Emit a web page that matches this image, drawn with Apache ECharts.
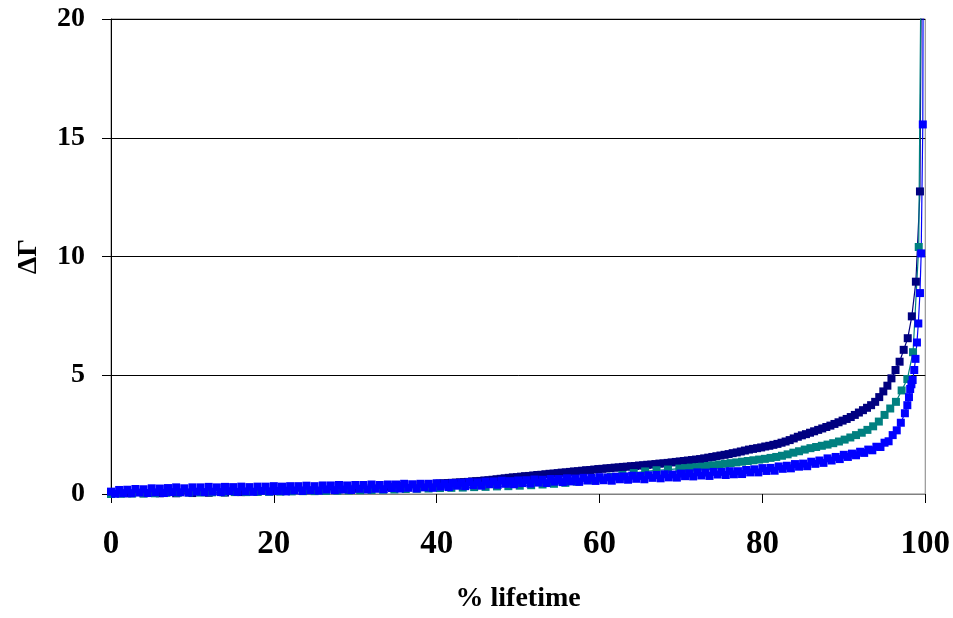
<!DOCTYPE html>
<html>
<head>
<meta charset="utf-8">
<script src="https://cdn.jsdelivr.net/npm/echarts/dist/echarts.min.js"></script>
<style>
  html, body { margin: 0; padding: 0; background: #fff; }
  #chart { width: 953px; height: 618px; }
</style>
</head>
<body>
<div id="chart"></div>
<script>
  // [% lifetime, ΔΓ]
  var navyPoints = [
    [0, 0.02], [2, 0.03], [4, 0.03], [6, 0.03], [8, 0.03], [10, 0.04], [12, 0.05], [14, 0.06],
    [16, 0.08], [18, 0.10], [20, 0.12], [22, 0.14], [24, 0.16], [26, 0.18], [28, 0.20], [30, 0.22],
    [32, 0.26], [34, 0.30], [36, 0.34], [38, 0.39], [40, 0.43],
    [40.35, 0.44], [40.85, 0.45], [41.35, 0.46], [41.85, 0.47], [42.35, 0.48], [42.85, 0.49],
    [43.35, 0.50], [43.85, 0.51], [44.35, 0.53], [44.85, 0.54], [45.35, 0.55], [45.85, 0.57],
    [46.35, 0.58], [46.85, 0.60], [47.35, 0.62], [47.85, 0.64], [48.35, 0.66], [48.85, 0.68],
    [49.35, 0.70], [49.85, 0.71], [50.35, 0.73], [50.85, 0.75], [51.35, 0.76], [51.85, 0.78],
    [52.35, 0.80], [52.85, 0.81], [53.35, 0.83], [53.85, 0.85], [54.35, 0.86], [54.85, 0.88],
    [55.35, 0.90], [55.85, 0.91], [56.35, 0.93], [56.85, 0.95], [57.35, 0.96], [57.85, 0.98],
    [58.35, 1.00], [58.85, 1.01], [59.35, 1.03], [59.85, 1.05], [60.35, 1.06], [60.85, 1.08],
    [61.35, 1.09], [61.85, 1.11], [62.35, 1.12], [62.85, 1.14], [63.35, 1.15], [63.85, 1.17],
    [64.35, 1.18], [64.85, 1.20], [65.35, 1.21], [65.85, 1.23], [66.35, 1.24], [66.85, 1.26],
    [67.35, 1.28], [67.85, 1.29], [68.35, 1.31], [68.85, 1.33], [69.35, 1.35], [69.85, 1.37],
    [70.35, 1.39], [70.85, 1.41], [71.35, 1.43], [71.85, 1.45], [72.35, 1.47], [72.85, 1.50],
    [73.35, 1.53], [73.85, 1.56], [74.35, 1.59], [74.85, 1.62], [75.35, 1.65], [75.85, 1.68],
    [76.35, 1.72], [76.85, 1.75], [77.35, 1.79], [77.85, 1.83], [78.35, 1.87], [78.85, 1.90],
    [79.35, 1.93], [79.85, 1.96], [80.35, 2.00], [80.85, 2.03], [81.35, 2.07], [81.85, 2.11],
    [82.35, 2.16], [82.85, 2.21], [83.35, 2.27], [83.85, 2.34], [84.35, 2.41], [84.85, 2.47],
    [85.35, 2.52], [85.85, 2.58], [86.35, 2.64], [86.85, 2.70], [87.35, 2.76], [87.85, 2.82],
    [88.35, 2.88], [88.85, 2.95], [89.35, 3.02], [89.85, 3.09], [90.35, 3.16], [90.85, 3.24],
    [91.35, 3.33], [91.85, 3.43], [92.35, 3.53], [92.85, 3.63], [93.35, 3.74], [93.85, 3.88],
    [94.35, 4.08], [94.85, 4.32], [95.35, 4.56], [95.85, 4.87], [96.35, 5.22], [96.85, 5.57],
    [97.35, 6.07], [97.85, 6.56], [98.35, 7.48], [98.85, 8.94], [99.35, 12.74], [99.85, 40]
  ]

  var tealPoints = [
    [0, 0.00], [1.2, 0.01], [2.6, 0.02], [4.0, 0.02], [5.4, 0.03], [6.8, 0.05], [8.2, 0.05],
    [9.6, 0.06], [11.0, 0.06], [12.4, 0.07], [13.8, 0.07], [15.2, 0.08], [16.6, 0.08], [18.0, 0.09],
    [19.4, 0.09], [20.8, 0.10], [22.2, 0.11], [23.6, 0.12], [25.0, 0.12], [26.4, 0.13], [27.8, 0.14],
    [29.2, 0.15], [30.6, 0.16], [32.0, 0.17], [33.4, 0.18], [34.8, 0.19], [36.2, 0.21], [37.6, 0.22],
    [39.0, 0.23], [40.4, 0.25], [41.8, 0.26], [43.2, 0.27], [44.6, 0.29], [46.0, 0.30], [47.4, 0.32],
    [48.8, 0.33], [50.2, 0.35], [51.6, 0.37], [53.0, 0.40], [54.4, 0.43], [55.8, 0.47], [57.2, 0.52],
    [58.6, 0.58], [60.0, 0.65], [61.4, 0.72], [62.8, 0.80], [64.2, 0.88], [65.6, 0.95], [67.0, 1.00],
    [68.4, 1.03], [69.8, 1.07], [70.5, 1.09], [71.2, 1.11], [71.9, 1.13], [72.6, 1.15], [73.3, 1.18],
    [74.0, 1.21], [74.7, 1.24], [75.4, 1.27], [76.1, 1.30], [76.8, 1.33], [77.5, 1.36], [78.2, 1.39],
    [78.9, 1.42], [79.6, 1.45], [80.3, 1.48], [81.0, 1.52], [81.7, 1.56], [82.4, 1.61], [83.1, 1.67],
    [83.8, 1.74], [84.5, 1.80], [85.2, 1.87], [85.9, 1.93], [86.6, 1.98], [87.3, 2.03], [88.0, 2.08],
    [88.7, 2.14], [89.4, 2.21], [90.1, 2.29], [90.8, 2.38], [91.5, 2.48], [92.2, 2.58], [92.9, 2.70],
    [93.6, 2.85], [94.3, 3.05], [95.0, 3.33], [95.7, 3.60], [96.4, 3.88], [97.1, 4.36], [97.8, 4.84],
    [98.5, 5.97], [99.2, 10.40], [99.9, 40]
  ]

  var bluePoints = [
    [0, 0.10], [0.5, 0.01], [1, 0.17], [1.5, 0.03], [2, 0.18], [2.5, 0.03], [3, 0.21], [3.5, 0.06],
    [4, 0.20], [4.5, 0.04], [5, 0.24], [5.5, 0.07], [6, 0.23], [6.5, 0.04], [7, 0.25], [7.5, 0.08],
    [8, 0.28], [8.5, 0.07], [9, 0.24], [9.5, 0.06], [10, 0.28], [10.5, 0.10], [11, 0.28], [11.5, 0.08],
    [12, 0.30], [12.5, 0.10], [13, 0.28], [13.5, 0.08], [14, 0.30], [14.5, 0.12], [15, 0.29], [15.5, 0.09],
    [16, 0.31], [16.5, 0.11], [17, 0.29], [17.5, 0.09], [18, 0.31], [18.5, 0.13], [19, 0.31], [19.5, 0.11],
    [20, 0.33], [20.5, 0.13], [21, 0.31], [21.5, 0.11], [22, 0.33], [22.5, 0.15], [23, 0.33], [23.5, 0.13],
    [24, 0.35], [24.5, 0.16], [25, 0.33], [25.5, 0.14], [26, 0.36], [26.5, 0.19], [27, 0.36], [27.5, 0.16],
    [28, 0.38], [28.5, 0.19], [29, 0.36], [29.5, 0.17], [30, 0.38], [30.5, 0.22], [31, 0.38], [31.5, 0.19],
    [32, 0.40], [32.5, 0.22], [33, 0.38], [33.5, 0.20], [34, 0.40], [34.5, 0.25], [35, 0.40], [35.5, 0.23],
    [36, 0.43], [36.5, 0.26], [37, 0.41], [37.5, 0.23], [38, 0.43], [38.5, 0.28], [39, 0.43], [39.5, 0.26],
    [40, 0.45], [40.5, 0.31], [41, 0.43], [41.5, 0.29], [42, 0.46], [42.5, 0.35], [43, 0.47], [43.5, 0.33],
    [44, 0.50], [44.5, 0.37], [45, 0.49], [45.5, 0.35], [46, 0.52], [46.5, 0.41], [47, 0.53], [47.5, 0.39],
    [48, 0.56], [48.5, 0.43], [49, 0.54], [49.5, 0.41], [50, 0.57], [50.5, 0.46], [51, 0.58], [51.5, 0.44],
    [52, 0.61], [52.5, 0.48], [53, 0.60], [53.5, 0.46], [54, 0.63], [54.5, 0.52], [55, 0.63], [55.5, 0.50],
    [56, 0.66], [56.5, 0.53], [57, 0.65], [57.5, 0.51], [58, 0.68], [58.5, 0.57], [59, 0.68], [59.5, 0.55],
    [60, 0.71], [60.5, 0.58], [61, 0.70], [61.5, 0.56], [62, 0.73], [62.5, 0.62], [63, 0.74], [63.5, 0.60],
    [64, 0.77], [64.5, 0.64], [65, 0.76], [65.5, 0.62], [66, 0.79], [66.5, 0.68], [67, 0.80], [67.5, 0.66],
    [68, 0.83], [68.5, 0.70], [69, 0.82], [69.5, 0.69], [70, 0.86], [70.5, 0.75], [71, 0.87], [71.5, 0.74],
    [72, 0.91], [72.5, 0.78], [73, 0.90], [73.5, 0.76], [74, 0.93], [74.5, 0.82], [75, 0.93], [75.5, 0.80],
    [76, 0.96], [76.5, 0.83], [77, 0.96], [77.5, 0.84], [78, 1.01], [78.5, 0.91], [79, 1.04], [79.5, 0.91],
    [80, 1.09], [80.5, 0.97], [81, 1.10], [81.5, 0.98], [82, 1.16], [82.5, 1.06], [83, 1.19], [83.5, 1.08],
    [84, 1.26], [84.5, 1.15], [85, 1.28], [85.5, 1.17], [86, 1.36], [86.5, 1.27], [87, 1.41], [87.5, 1.31],
    [88, 1.50], [88.5, 1.41], [89, 1.56], [89.5, 1.47], [90, 1.65], [90.5, 1.56], [91, 1.70], [91.5, 1.63],
    [92, 1.78], [92.5, 1.73], [93, 1.87], [93.5, 1.84], [94, 1.99], [94.5, 1.98], [95, 2.16], [95.5, 2.22],
    [96, 2.48], [96.5, 2.68], [97, 3.00], [97.5, 3.40], [97.8, 3.74], [98.0, 4.08], [98.15, 4.42],
    [98.3, 4.62], [98.45, 4.80], [98.65, 5.22], [98.8, 5.69], [98.98, 6.38], [99.15, 7.18],
    [99.35, 8.46], [99.5, 10.13], [99.7, 15.56], [99.85, 40]
  ]

  var xTicks = [0, 100, 20]
  var yTicks = [0, 20, 5]

  var labelFont = 'Liberation Serif'

  function curve(points, color) {
    return {
      type: 'line',
      data: points,
      symbol: 'rect',
      symbolSize: 8,
      showAllSymbol: true,
      clip: true,
      lineStyle: { color: color, width: 1.2 },
      itemStyle: { color: color, borderWidth: 0 }
    }
  }

  var chart = echarts.init(document.getElementById('chart'))
  var option = {
    animation: false,
    grid: {
      left: 111,
      right: 27,
      top: 19,
      bottom: 114,
      show: true,
      borderColor: '#808080',
      borderWidth: 1
    },
    xAxis: {
      type: 'value',
      min: xTicks[0],
      max: xTicks[1],
      interval: xTicks[2],
      name: '% lifetime',
      nameLocation: 'middle',
      nameGap: 91,
      nameTextStyle: { fontFamily: labelFont, fontWeight: 'bold', fontSize: 28, color: '#000' },
      axisLine: { lineStyle: { color: '#808080', width: 1 } },
      axisTick: { show: true, inside: false, length: 9, lineStyle: { color: '#000' } },
      axisLabel: { margin: 34, fontFamily: labelFont, fontWeight: 'bold', fontSize: 33, color: '#000' },
      splitLine: { show: false }
    },
    yAxis: {
      type: 'value',
      min: yTicks[0],
      max: yTicks[1],
      interval: yTicks[2],
      name: 'ΔΓ',
      nameLocation: 'middle',
      nameGap: 68,
      nameTextStyle: { fontFamily: labelFont, fontWeight: 'bold', fontSize: 28, color: '#000' },
      axisLine: { show: true, lineStyle: { color: '#000', width: 1 } },
      axisTick: { show: true, inside: false, length: 9, lineStyle: { color: '#000' } },
      axisLabel: { margin: 26, fontFamily: labelFont, fontWeight: 'bold', fontSize: 28, color: '#000' },
      splitLine: { show: true, lineStyle: { color: '#000', width: 1 } }
    },
    series: [
      curve(navyPoints, '#000080'),
      curve(tealPoints, '#008080'),
      curve(bluePoints, '#0000FF')
    ]
  }
  chart.setOption(option)
</script>
</body>
</html>
